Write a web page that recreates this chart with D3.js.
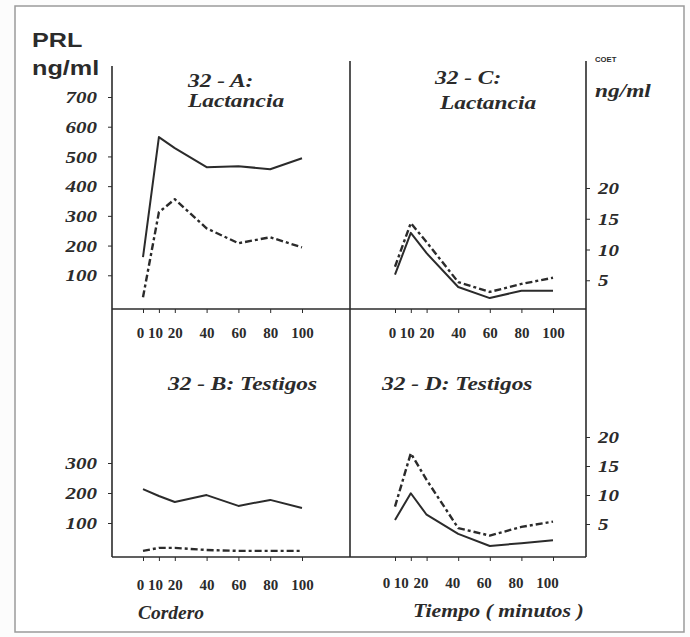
<!DOCTYPE html>
<html>
<head>
<meta charset="utf-8">
<script src="https://cdn.jsdelivr.net/npm/d3@7"></script>
<style>
  body { margin: 0; background: #fff; }
  svg { display: block; }
</style>
</head>
<body>
<script>
// sampling times (minutes)
var times = [0, 10, 20, 40, 60, 80, 100];
var xTickLabels = ["0", "10", "20", "40", "60", "80", "100"];

// PRL ng/ml
var prlLactSolid  = [161, 565, 528, 464, 467, 457, 494];
var prlLactDashed = [26, 312, 356, 258, 208, 228, 194];
var prlTestSolid  = [213, 190, 170, 193, 157, 177, 150];
var prlTestDashed = [7, 17, 17, 10, 7, 7, 7];

// cortisol ng/ml
var cortLactSolid  = [5.9, 12.7, 9.4, 3.9, 2.1, 3.3, 3.3];
var cortLactDashed = [7.2, 14.3, 11.2, 4.7, 3.1, 4.4, 5.4];
var cortTestSolid  = [5.7, 10.3, 6.6, 3.3, 1.2, 1.7, 2.2];
var cortTestDashed = [8, 17.2, 12.6, 4.3, 3, 4.5, 5.4];

var prlTicksTop = [100, 200, 300, 400, 500, 600, 700];
var prlTicksBottom = [100, 200, 300];
var cortTicks = [5, 10, 15, 20];

var ink = "#2b2b2b";
var serif = "'Liberation Serif', 'Times New Roman', serif";
var sans = "'Liberation Sans', Arial, sans-serif";

var svg = d3.select("body").append("svg")
    .attr("width", 690)
    .attr("height", 637);

svg.append("rect").attr("width", 690).attr("height", 637).attr("fill", "#fcfcfc");

// outer frame of the scanned figure
svg.append("rect")
    .attr("x", 15).attr("y", 6).attr("width", 669).attr("height", 626)
    .attr("fill", "#fff").attr("stroke", "#9a9a9a").attr("stroke-width", 1.5);

// scales
var xL = d3.scaleLinear().domain([0, 100]).range([143, 302]);
var xR = d3.scaleLinear().domain([0, 100]).range([395, 553]);
var yA = d3.scaleLinear().domain([0, 700]).range([305, 97]);
var yB = d3.scaleLinear().domain([0, 300]).range([553, 463]);
var yC = d3.scaleLinear().domain([0, 20]).range([311, 188]);
var yD = d3.scaleLinear().domain([0, 20]).range([553, 437]);

// squeeze text horizontally like the scan
function stretch(sel, k) {
    sel.each(function () {
        var t = d3.select(this);
        var x = +t.attr("x") || 0;
        t.attr("x", x / k).attr("transform", "scale(" + k + ",1)");
    });
}

// panel frame lines
var frame = svg.append("g").attr("stroke", ink).attr("stroke-width", 1.6).attr("fill", "none");
frame.append("line").attr("x1", 112).attr("y1", 66).attr("x2", 112).attr("y2", 557);
frame.append("line").attr("x1", 350).attr("y1", 61).attr("x2", 350).attr("y2", 557);
frame.append("line").attr("x1", 586).attr("y1", 61).attr("x2", 586).attr("y2", 557);
frame.append("line").attr("x1", 112).attr("y1", 309).attr("x2", 586).attr("y2", 309);
frame.append("line").attr("x1", 112).attr("y1", 557).attr("x2", 586).attr("y2", 557);

// y axes
function yAxis(scale, ticks, x, left) {
    var ax = (left ? d3.axisLeft(scale) : d3.axisRight(scale))
        .tickValues(ticks).tickSize(4).tickPadding(left ? 11 : 8);
    var g = svg.append("g").attr("transform", "translate(" + x + ",0)").call(ax);
    g.select(".domain").remove();
    g.selectAll("line").attr("stroke", ink);
    g.selectAll("text")
        .attr("fill", ink)
        .style("font-family", serif)
        .style("font-size", "17.5px")
        .style("font-weight", "bold")
        .style("font-style", "italic");
    stretch(g.selectAll("text"), 1.2);
}
yAxis(yA, prlTicksTop, 112, true);
yAxis(yB, prlTicksBottom, 112, true);
yAxis(yC, cortTicks, 586, false);
yAxis(yD, cortTicks, 586, false);

// x axes
function xAxis(scale, y, pad, shift) {
    var ax = d3.axisBottom(scale).tickValues(times)
        .tickFormat(function (d, i) { return xTickLabels[i]; })
        .tickSize(4).tickPadding(pad);
    var g = svg.append("g").attr("transform", "translate(0," + y + ")").call(ax);
    g.select(".domain").remove();
    g.selectAll("line").attr("stroke", ink);
    g.selectAll("text")
        .attr("fill", ink)
        .attr("dx", function (d, i) { return (i === 0 ? -3 : i === 1 ? -4 : 0) + shift; })
        .style("font-family", serif)
        .style("font-size", "15px")
        .style("font-weight", "bold");
}
xAxis(xL, 309, 14, 0);
xAxis(xR, 309, 14, 0);
xAxis(xL, 557, 18, 0);
xAxis(xR, 557, 16, -6);

// series
function series(xs, ys, vals, dashed) {
    var line = d3.line()
        .x(function (d, i) { return xs(times[i]); })
        .y(function (d) { return ys(d); });
    svg.append("path")
        .datum(vals)
        .attr("d", line)
        .attr("fill", "none")
        .attr("stroke", ink)
        .attr("stroke-width", dashed ? 2.4 : 2)
        .attr("stroke-linejoin", "round")
        .attr("stroke-dasharray", dashed ? "7,3,3,3" : null);
}
series(xL, yA, prlLactSolid, false);
series(xL, yA, prlLactDashed, true);
series(xL, yB, prlTestSolid, false);
series(xL, yB, prlTestDashed, true);
series(xR, yC, cortLactSolid, false);
series(xR, yC, cortLactDashed, true);
series(xR, yD, cortTestSolid, false);
series(xR, yD, cortTestDashed, true);

// labels
function label(txt, x, y, opts) {
    var t = svg.append("text")
        .attr("x", x).attr("y", y)
        .attr("fill", ink)
        .style("font-family", opts.family || serif)
        .style("font-size", opts.size + "px")
        .style("font-weight", opts.weight || "bold")
        .style("font-style", opts.style || "italic")
        .text(txt);
    stretch(t, opts.k || 1.2);
}
label("PRL", 32, 47, { family: sans, size: 21, style: "normal" });
label("ng/ml", 32, 75, { family: sans, size: 21, style: "normal" });
label("32 - A:", 188, 87, { size: 19.5 });
label("Lactancia", 188, 107, { size: 19.5 });
label("32 - C:", 435, 84, { size: 19.5 });
label("Lactancia", 440, 109, { size: 19.5 });
label("COET", 595, 62, { family: sans, size: 7, style: "normal", k: 1.1 });
label("ng/ml", 595, 97, { size: 19.5 });
label("32 - B: Testigos", 168, 390, { size: 19.5 });
label("32 - D: Testigos", 382, 390, { size: 19.5 });
label("Cordero", 138, 619, { size: 19.5, k: 1 });
label("Tiempo ( minutos )", 413, 617, { size: 19.5, k: 1.12 });
</script>
</body>
</html>
